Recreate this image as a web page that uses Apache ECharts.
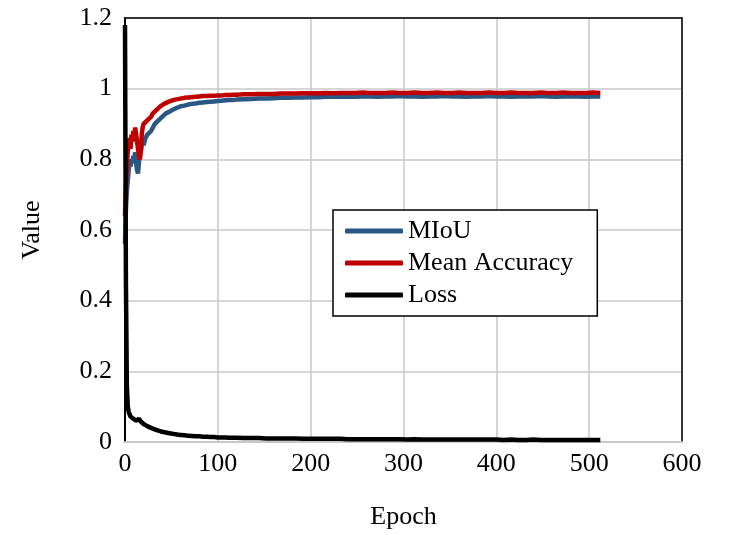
<!DOCTYPE html>
<html><head><meta charset="utf-8">
<script src="https://cdn.jsdelivr.net/npm/echarts@6/dist/echarts.min.js"></script>
<style>html,body{margin:0;padding:0;background:#fff}#c{width:729px;height:535px}</style>
</head><body><div id="c"></div>
<script>
const epochs = [0,1,2,3,4,5,6,7,8,9,10,11,12,13,14,15,16,17,18,19,20,
22,24,26,28,30,32,34,36,38,40,42,44,46,48,50,52,54,56,58,60,
64,68,72,76,80,84,88,92,96,100,104,108,112,116,120,
128,136,144,152,160,168,176,184,192,200,208,216,224,232,240,248,256,264,272,280,288,296,304,312,320,328,336,344,352,360,368,376,384,392,400,408,416,424,432,440,448,456,464,472,480,488,496,504,512];

const miou = [0.56,0.66,0.71,0.74,0.77,0.79,0.78,0.80,0.79,0.81,0.80,0.82,0.79,0.77,0.76,0.79,0.83,0.82,0.84,0.85,0.84,
0.86,0.87,0.875,0.88,0.89,0.90,0.905,0.91,0.915,0.92,0.925,0.93,0.931,0.935,0.94,0.941,0.945,0.946,0.948,0.95,
0.952,0.955,0.957,0.958,0.96,0.961,0.962,0.963,0.964,0.965,0.966,0.967,0.968,0.968,0.969,
0.970,0.971,0.972,0.972,0.973,0.974,0.974,0.975,0.975,0.976,0.976,0.977,0.977,0.977,0.978,0.977,0.978,0.978,0.977,0.978,0.978,0.979,0.978,0.978,0.977,0.978,0.978,0.979,0.978,0.978,0.977,0.978,0.978,0.979,0.978,0.978,0.977,0.978,0.978,0.978,0.979,0.978,0.977,0.978,0.978,0.978,0.977,0.978,0.978];

const meanAcc = [0.64,0.72,0.78,0.82,0.84,0.86,0.83,0.87,0.85,0.88,0.86,0.89,0.87,0.85,0.83,0.81,0.80,0.82,0.87,0.89,0.90,
0.905,0.91,0.915,0.92,0.93,0.935,0.94,0.945,0.95,0.953,0.957,0.96,0.962,0.964,0.966,0.967,0.969,0.97,0.971,0.972,
0.974,0.975,0.976,0.977,0.978,0.979,0.979,0.980,0.980,0.981,0.981,0.982,0.982,0.983,0.983,
0.984,0.984,0.985,0.985,0.985,0.986,0.986,0.986,0.987,0.987,0.987,0.988,0.987,0.988,0.988,0.988,0.989,0.988,0.988,0.988,0.989,0.988,0.988,0.989,0.988,0.988,0.989,0.988,0.988,0.989,0.988,0.988,0.988,0.989,0.988,0.988,0.989,0.988,0.988,0.988,0.989,0.988,0.988,0.989,0.988,0.988,0.988,0.989,0.988];

const loss = [1.18,0.45,0.16,0.10,0.085,0.078,0.072,0.07,0.068,0.066,0.064,0.062,0.06,0.058,0.062,0.066,0.063,0.058,0.055,0.053,0.051,
0.048,0.045,0.042,0.04,0.038,0.036,0.034,0.032,0.03,0.029,0.028,0.027,0.026,0.025,0.024,0.023,0.022,0.021,0.021,0.020,
0.019,0.018,0.017,0.016,0.016,0.015,0.015,0.014,0.014,0.013,0.013,0.013,0.012,0.012,0.012,
0.011,0.011,0.011,0.010,0.010,0.010,0.010,0.010,0.009,0.009,0.009,0.009,0.009,0.009,0.008,0.008,0.008,0.008,0.008,0.008,0.008,0.008,0.007,0.008,0.007,0.007,0.007,0.007,0.007,0.007,0.007,0.007,0.007,0.007,0.007,0.006,0.007,0.006,0.006,0.007,0.006,0.006,0.006,0.006,0.006,0.006,0.006,0.006,0.006];

const xTicks = [0,100,200,300,400,500,600];
const yTicks = [0,0.2,0.4,0.6,0.8,1,1.2];
const seriesNames = ['MIoU','Mean Accuracy','Loss'];

const pair = arr => epochs.map((e,i)=>[e,arr[i]]);
const FONT = '"Liberation Serif","DejaVu Serif",serif';
const chart = echarts.init(document.getElementById('c'));
chart.setOption({
  animation:false,
  backgroundColor:'#fff',
  textStyle:{fontFamily:FONT},
  grid:{left:125,right:47,top:18,bottom:89,containLabel:false},
  legend:{
    orient:'vertical', left:333, top:210,
    data:seriesNames,
    icon:'roundRect', itemWidth:58, itemHeight:5, itemGap:6,
    padding:[8,24,8,12],
    borderColor:'#000', borderWidth:1.5, backgroundColor:'#fff',
    textStyle:{fontFamily:FONT,fontSize:26,color:'#000'}
  },
  xAxis:[{
    type:'value', min:0, max:600, interval:100,
    name:'Epoch', nameLocation:'middle', nameGap:62,
    nameTextStyle:{fontFamily:FONT,fontSize:26,color:'#000'},
    axisLine:{show:true,lineStyle:{color:'#c8c8c8',width:2}},
    axisTick:{show:false},
    axisLabel:{fontFamily:FONT,fontSize:26,color:'#000',margin:9,
      formatter:v=>xTicks.includes(v)?String(v):''},
    splitLine:{show:true,lineStyle:{color:'#c8c8c8',width:1.5}}
  },{
    type:'value', position:'top', min:0, max:600, interval:100,
    axisLine:{show:true,onZero:false,lineStyle:{color:'#000',width:1.5}},
    axisTick:{show:false}, axisLabel:{show:false}, splitLine:{show:false}
  }],
  yAxis:[{
    type:'value', min:0, max:1.2, interval:0.2,
    name:'Value', nameLocation:'middle', nameGap:80, nameRotate:90,
    nameTextStyle:{fontFamily:FONT,fontSize:26,color:'#000'},
    axisLine:{show:true,onZero:false,lineStyle:{color:'#000',width:2}},
    axisTick:{show:false},
    axisLabel:{fontFamily:FONT,fontSize:26,color:'#000',margin:13,
      formatter:v=>{const t=yTicks.find(k=>Math.abs(k-v)<1e-9);return t===undefined?'':String(t);}},
    splitLine:{show:true,lineStyle:{color:'#c8c8c8',width:1.5}}
  },{
    type:'value', position:'right', min:0, max:1.2, interval:0.2,
    axisLine:{show:true,onZero:false,lineStyle:{color:'#000',width:1.5}},
    axisTick:{show:false}, axisLabel:{show:false}, splitLine:{show:false}
  }],
  series:[
    {name:seriesNames[0],type:'line',data:pair(miou),showSymbol:false,symbol:'none',
     lineStyle:{color:'#2a5783',width:4.5},itemStyle:{color:'#2a5783'},z:3},
    {name:seriesNames[1],type:'line',data:pair(meanAcc),showSymbol:false,symbol:'none',
     lineStyle:{color:'#c00000',width:4.5},itemStyle:{color:'#c00000'},z:4},
    {name:seriesNames[2],type:'line',data:pair(loss),showSymbol:false,symbol:'none',
     lineStyle:{color:'#000',width:4.5},itemStyle:{color:'#000'},z:5}
  ]
});
</script></body></html>
